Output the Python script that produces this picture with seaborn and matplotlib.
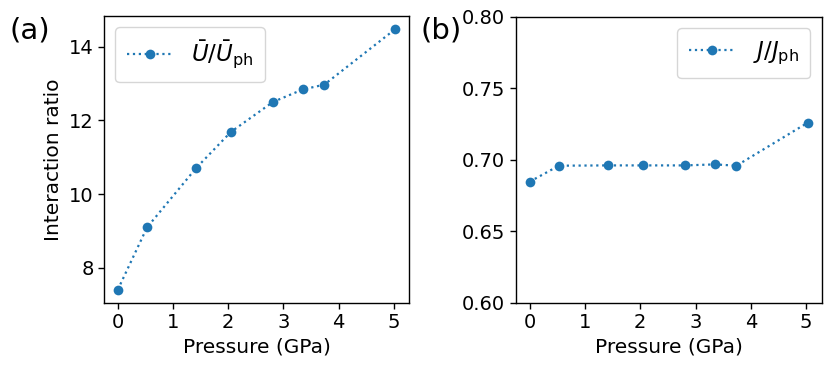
import matplotlib
matplotlib.use("Agg")
import matplotlib.pyplot as plt
import seaborn as sns
import pandas as pd

pressure = [0.0, 0.53, 1.42, 2.05, 2.81, 3.35, 3.74, 5.03]
u_ratio = [7.41, 9.10, 10.71, 11.69, 12.50, 12.84, 12.97, 14.48]
j_ratio = [0.6846, 0.6958, 0.6960, 0.6960, 0.6960, 0.6967, 0.6958, 0.7259]

u_label = r"$\bar{U}/\bar{U}_{\rm ph}$"
j_label = r"$J/J_{\rm ph}$"


def main():
    sns.set_style("ticks")
    plt.rcParams.update({
        "font.family": ["DejaVu Sans"],
        "font.size": 14,
        "xtick.labelsize": 14,
        "ytick.labelsize": 14,
        "axes.labelsize": 14.5,
        "text.color": "black",
        "axes.labelcolor": "black",
        "xtick.color": "black",
        "ytick.color": "black",
        "axes.edgecolor": "black",
        "axes.linewidth": 1.0,
        "mathtext.fontset": "dejavusans",
    })
    df = pd.DataFrame({"pressure": pressure, "u": u_ratio, "j": j_ratio})

    fig = plt.figure(figsize=(8.31, 3.66), dpi=100)
    ax1 = fig.add_axes([0.1251, 0.173, 0.3674, 0.7833])
    ax2 = fig.add_axes([0.6206, 0.173, 0.3682, 0.7814])

    style = dict(marker="o", linestyle=":", color="#1f77b4", markersize=7,
                 markeredgewidth=0, linewidth=1.6)
    sns.lineplot(data=df, x="pressure", y="u", ax=ax1, label=u_label, **style)
    sns.lineplot(data=df, x="pressure", y="j", ax=ax2, label=j_label, **style)

    ax1.set_xlabel("Pressure (GPa)")
    ax1.set_ylabel("Interaction ratio")
    ax1.set_yticks([8, 10, 12, 14])
    ax1.legend(loc="upper left", fontsize=16.5, borderpad=0.5)

    ax2.set_xlabel("Pressure (GPa)")
    ax2.set_ylabel("")
    ax2.set_ylim(0.60, 0.80)
    ax2.set_yticks([0.60, 0.65, 0.70, 0.75, 0.80])
    ax2.legend(loc="upper right", fontsize=16.5, borderpad=0.5)

    for ax in (ax1, ax2):
        ax.set_xticks([0, 1, 2, 3, 4, 5])
        ax.tick_params(length=4, width=1)

    fig.text(0.012, 0.955, "(a)", fontsize=21, va="top")
    fig.text(0.506, 0.955, "(b)", fontsize=21, va="top")

    plt.savefig("out.png", dpi=100)
    plt.close()


if __name__ == "__main__":
    main()
